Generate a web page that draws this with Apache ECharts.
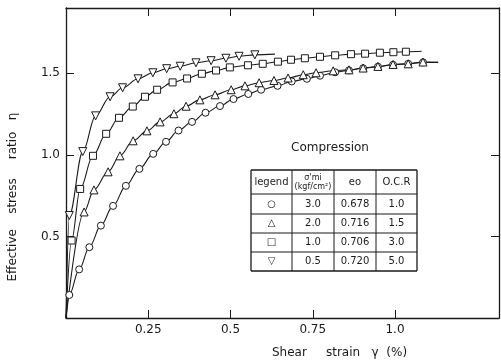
<!DOCTYPE html>
<html>
<head>
<meta charset="utf-8">
<script src="https://cdn.jsdelivr.net/npm/echarts@6/dist/echarts.min.js"></script>
<style>
html, body { margin: 0; padding: 0; background: #fff; }
#chart { width: 501px; height: 362px; }
</style>
</head>
<body>
<div id="chart"></div>
<script>
// shear strain (%) , effective stress ratio ; first point is the origin, last point is where the line stops
var circlePts = [
  [0, 0], [0.010, 0.141], [0.040, 0.298], [0.071, 0.434], [0.106, 0.566], [0.143, 0.687],
  [0.182, 0.810], [0.223, 0.914], [0.265, 1.006], [0.304, 1.080], [0.342, 1.149],
  [0.383, 1.202], [0.424, 1.258], [0.468, 1.299], [0.509, 1.342], [0.554, 1.373],
  [0.593, 1.399], [0.643, 1.423], [0.686, 1.450], [0.732, 1.466], [0.772, 1.485],
  [0.818, 1.506], [0.860, 1.518], [0.903, 1.531], [0.948, 1.540], [0.994, 1.552],
  [1.040, 1.558], [1.085, 1.567], [1.131, 1.567]
];
var triUpPts = [
  [0, 0], [0.055, 0.650], [0.085, 0.785], [0.128, 0.896], [0.164, 0.994], [0.204, 1.086],
  [0.246, 1.147], [0.286, 1.202], [0.328, 1.252], [0.365, 1.298], [0.407, 1.337],
  [0.453, 1.368], [0.502, 1.399], [0.544, 1.423], [0.587, 1.442], [0.632, 1.456],
  [0.675, 1.471], [0.721, 1.491], [0.760, 1.503], [0.812, 1.515], [0.860, 1.521],
  [0.903, 1.532], [0.948, 1.542], [0.994, 1.554], [1.040, 1.558], [1.085, 1.569],
  [1.131, 1.567]
];
var squarePts = [
  [0, 0], [0.017, 0.475], [0.043, 0.791], [0.082, 0.994], [0.122, 1.129], [0.161, 1.227],
  [0.203, 1.296], [0.240, 1.356], [0.277, 1.399], [0.324, 1.444], [0.368, 1.468],
  [0.413, 1.497], [0.456, 1.517], [0.498, 1.536], [0.553, 1.549], [0.598, 1.558],
  [0.644, 1.571], [0.684, 1.583], [0.726, 1.592], [0.772, 1.601], [0.818, 1.610],
  [0.866, 1.617], [0.909, 1.620], [0.954, 1.626], [0.995, 1.629], [1.033, 1.632],
  [1.081, 1.635]
];
var triDownPts = [
  [0, 0], [0.010, 0.628], [0.051, 1.020], [0.090, 1.239], [0.134, 1.356], [0.172, 1.411],
  [0.219, 1.466], [0.264, 1.503], [0.306, 1.528], [0.347, 1.543], [0.395, 1.564],
  [0.441, 1.577], [0.486, 1.592], [0.526, 1.604], [0.574, 1.613], [0.635, 1.617]
];

var xTicks = [0.25, 0.5, 0.75, 1.0];
var xTickLabels = ['0.25', '0.5', '0.75', '1.0'];
var yTicks = [0.5, 1.0, 1.5];
var yTickLabels = ['0.5', '1.0', '1.5'];

// table in the plot
var tableHeads = ['legend', "σ'mi\n(kgf/cm²)", 'eo', 'O.C.R'];
var legendMarks = ['○', '△', '□', '▽'];
var sigmaMi = ['3.0', '2.0', '1.0', '0.5'];
var voidRatio = ['0.678', '0.716', '0.706', '0.720'];
var ocr = ['1.0', '1.5', '3.0', '5.0'];

var ink = '#1a1a1a';
var font = 'DejaVu Sans';

function pointsToData(pts) {
  return pts.map(function (p, i) {
    if (i === 0 || i === pts.length - 1) {
      return { value: p, symbol: 'none' };
    }
    return p;
  });
}

function makeSeries(name, pts, symbol, size, rotate) {
  return {
    name: name,
    type: 'line',
    data: pointsToData(pts),
    smooth: 0.35,
    smoothMonotone: 'x',
    symbol: symbol,
    symbolSize: size,
    symbolRotate: rotate || 0,
    showAllSymbol: true,
    lineStyle: { color: ink, width: 1.1 },
    itemStyle: { color: '#fff', borderColor: ink, borderWidth: 1 },
    emphasis: { disabled: true },
    z: 3
  };
}

function axisLook(showLabel, labels, ticks) {
  return {
    axisLine: { show: true, onZero: false, lineStyle: { color: ink, width: 1.3 } },
    axisTick: { show: true, inside: true, length: 8, customValues: ticks, lineStyle: { color: ink, width: 1 } },
    axisLabel: {
      show: showLabel,
      customValues: ticks,
      color: ink,
      fontFamily: font,
      fontSize: 12,
      margin: 6,
      formatter: function (v) {
        var k = ticks.findIndex(function (t) { return Math.abs(t - v) < 1e-6; });
        return k >= 0 ? labels[k] : '';
      }
    },
    splitLine: { show: false }
  };
}

// table graphics
var colX = [251, 292, 334, 376, 417];
var rowY = [170, 194, 214, 233, 252, 271];
var tableGraphics = [];
colX.forEach(function (x, i) {
  tableGraphics.push({
    type: 'line',
    shape: { x1: x, y1: rowY[0], x2: x, y2: rowY[rowY.length - 1] },
    style: { stroke: ink, lineWidth: (i === 0 || i === colX.length - 1) ? 1.3 : 1 }
  });
});
rowY.forEach(function (y, i) {
  tableGraphics.push({
    type: 'line',
    shape: { x1: colX[0], y1: y, x2: colX[colX.length - 1], y2: y },
    style: { stroke: ink, lineWidth: (i === 0 || i === rowY.length - 1) ? 1.3 : 1 }
  });
});
function cellText(col, row, txt, size) {
  return {
    type: 'text',
    x: (colX[col] + colX[col + 1]) / 2,
    y: (rowY[row] + rowY[row + 1]) / 2,
    style: {
      text: txt,
      fill: ink,
      font: size + 'px "' + font + '"',
      align: 'center',
      verticalAlign: 'middle',
      lineHeight: size + 1
    }
  };
}
tableHeads.forEach(function (h, c) {
  tableGraphics.push(cellText(c, 0, h, c === 1 ? 8 : 10));
});
var columns = [legendMarks, sigmaMi, voidRatio, ocr];
columns.forEach(function (col, c) {
  col.forEach(function (v, r) {
    tableGraphics.push(cellText(c, r + 1, v, 10));
  });
});

var chart = echarts.init(document.getElementById('chart'), null, { renderer: 'canvas' });

var option = {
  backgroundColor: '#fff',
  animation: false,
  grid: { left: 66, right: 2, top: 8, bottom: 44 },
  xAxis: [
    Object.assign({ type: 'value', min: 0, max: 1.316, interval: 0.25, position: 'bottom' },
      axisLook(true, xTickLabels, xTicks)),
    Object.assign({ type: 'value', min: 0, max: 1.316, interval: 0.25, position: 'top' },
      axisLook(false, xTickLabels, xTicks))
  ],
  yAxis: [
    Object.assign({ type: 'value', min: 0, max: 1.9, interval: 0.5, position: 'left' },
      axisLook(true, yTickLabels, yTicks)),
    Object.assign({ type: 'value', min: 0, max: 1.9, interval: 0.5, position: 'right' },
      axisLook(false, yTickLabels, yTicks))
  ],
  series: [
    makeSeries('σmi 3.0', circlePts, 'circle', 7),
    makeSeries('σmi 2.0', triUpPts, 'triangle', 8),
    makeSeries('σmi 1.0', squarePts, 'rect', 7),
    makeSeries('σmi 0.5', triDownPts, 'triangle', 8, 180)
  ],
  graphic: [
    {
      type: 'text',
      x: 272, y: 353,
      style: { text: 'Shear     strain   γ  (%)', fill: ink, font: '12px "' + font + '"', align: 'left', verticalAlign: 'middle' }
    },
    {
      type: 'text',
      x: 13, y: 197,
      rotation: Math.PI / 2,
      style: { text: 'Effective    stress     ratio   η', fill: ink, font: '12px "' + font + '"', align: 'center', verticalAlign: 'middle' }
    },
    {
      type: 'text',
      x: 330, y: 148,
      style: { text: 'Compression', fill: ink, font: '12px "' + font + '"', align: 'center', verticalAlign: 'middle' }
    }
  ].concat(tableGraphics)
};

chart.setOption(option);
</script>
</body>
</html>
